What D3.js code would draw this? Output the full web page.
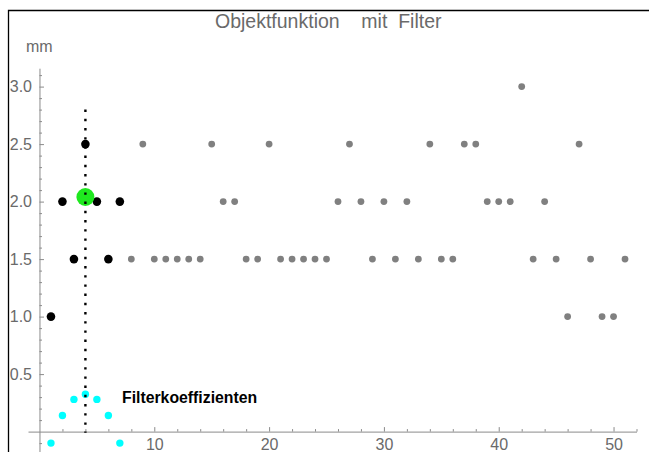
<!DOCTYPE html>
<html>
<head>
<meta charset="utf-8">
<script src="https://cdn.jsdelivr.net/npm/d3@7"></script>
<style>
  html, body { margin: 0; padding: 0; background: #fff; }
  svg { display: block; font-family: "Liberation Sans", Arial, sans-serif; }
</style>
</head>
<body>
<svg id="chart" width="649" height="452"></svg>
<script>
// Sample index and measured object function (mm)
const objIndex = d3.range(1, 52);
const objValues = [
  1.0, 2.0, 1.5, 2.5, 2.0, 1.5, 2.0,            // 1..7 (inside filter window)
  1.5, 2.5, 1.5, 1.5, 1.5, 1.5, 1.5, 2.5, 2.0, 2.0, // 8..17
  1.5, 1.5, 2.5, 1.5, 1.5, 1.5, 1.5, 1.5, 2.0, 2.5, // 18..27
  2.0, 1.5, 2.0, 1.5, 2.0, 1.5, 2.5, 1.5, 1.5, 2.5, // 28..37
  2.5, 2.0, 2.0, 2.0, 3.0, 1.5, 2.0, 1.5, 1.0, 2.5, // 38..47
  1.5, 1.0, 1.0, 1.5                            // 48..51
];
// Filter window covers the first seven samples
const windowSize = 7;
const filterCenter = 4;
const filterCoefficients = [-0.10, 0.14, 0.28, 0.325, 0.28, 0.14, -0.10];
const filteredValue = 2.04;
const filterLineTop = 2.8;

const xMajorTicks = [10, 20, 30, 40, 50];
const xMinorTicks = d3.range(2, 53, 2).filter(d => d % 10 !== 0);
const yMajorTicks = [0.5, 1.0, 1.5, 2.0, 2.5, 3.0];
const yMinorTicks = d3.range(-1, 32).map(d => d / 10).filter(d => Math.round(d * 10) % 5 !== 0);

const titleText = "Objektfunktion    mit  Filter";
const yUnit = "mm";
const filterLabel = "Filterkoeffizienten";

const svg = d3.select("#chart");

const x = d3.scaleLinear().domain([-1, 52]).range([28, 636.5]);
const y = d3.scaleLinear().domain([-0.18, 3.16]).range([452.3, 68.2]);

// Outer frame (top and left edges)
svg.append("path")
  .attr("d", "M8.5,452 L8.5,10.5 L649,10.5")
  .attr("fill", "none").attr("stroke", "#000").attr("stroke-width", 1.3);

const axisColor = "#8a8a8a";
const labelColor = "#6a6a6a";

function styleAxis(g) {
  g.selectAll("path.domain").attr("stroke", axisColor).attr("stroke-width", 1);
  g.selectAll(".tick line").attr("stroke", axisColor).attr("stroke-width", 1);
  g.selectAll(".tick text").attr("fill", labelColor)
    .attr("font-size", 16).attr("font-family", "Liberation Sans, Arial, sans-serif");
}

// X axis at y = 0
const xAxisY = y(0);
svg.append("g").attr("transform", `translate(0,${xAxisY})`)
  .call(d3.axisBottom(x).tickValues(xMinorTicks).tickSizeInner(-2.5).tickSizeOuter(0).tickFormat(""))
  .call(styleAxis);
svg.append("g").attr("transform", `translate(0,${xAxisY})`)
  .call(d3.axisBottom(x).tickValues(xMajorTicks).tickSizeInner(-4.5).tickSizeOuter(0).tickPadding(7.2).tickFormat(d3.format("d")))
  .call(styleAxis)
  .call(g => g.select("path.domain").remove());

// Y axis at x = 0
const yAxisX = x(0);
svg.append("g").attr("transform", `translate(${yAxisX},0)`)
  .call(d3.axisLeft(y).tickValues(yMinorTicks).tickSizeInner(-2.5).tickSizeOuter(0).tickFormat(""))
  .call(styleAxis);
svg.append("g").attr("transform", `translate(${yAxisX},0)`)
  .call(d3.axisLeft(y).tickValues(yMajorTicks).tickSizeInner(-4.5).tickSizeOuter(0).tickPadding(7.5).tickFormat(d3.format(".1f")))
  .call(styleAxis)
  .call(g => g.select("path.domain").remove());

// Title and unit
svg.append("text")
  .attr("x", 215).attr("y", 28)
  .attr("xml:space", "preserve").style("white-space", "pre")
  .attr("font-size", 19.5).attr("fill", labelColor)
  .text(titleText);
svg.append("text")
  .attr("x", 26).attr("y", 52)
  .attr("font-size", 16).attr("fill", labelColor)
  .text(yUnit);

// Object function samples outside the filter window
const objData = objIndex.map((d, i) => ({ x: d, v: objValues[i] }));
svg.append("g").selectAll("circle")
  .data(objData.filter(d => d.x > windowSize))
  .join("circle")
  .attr("cx", d => x(d.x)).attr("cy", d => y(d.v))
  .attr("r", 3.4).attr("fill", "#808080");

// Samples inside the filter window
svg.append("g").selectAll("circle")
  .data(objData.filter(d => d.x <= windowSize))
  .join("circle")
  .attr("cx", d => x(d.x)).attr("cy", d => y(d.v))
  .attr("r", 4.3).attr("fill", "#000");

// Filter output at the window centre
svg.append("circle")
  .attr("cx", x(filterCenter)).attr("cy", y(filteredValue))
  .attr("r", 9).attr("fill", "#1fe81f");

// Filter coefficients
svg.append("g").selectAll("circle")
  .data(filterCoefficients.map((c, i) => ({ x: i + 1, v: c })))
  .join("circle")
  .attr("cx", d => x(d.x)).attr("cy", d => y(d.v))
  .attr("r", 3.7).attr("fill", "#00ffff");

// Dotted marker through the window centre
svg.append("line")
  .attr("x1", x(filterCenter)).attr("x2", x(filterCenter))
  .attr("y1", y(filterLineTop)).attr("y2", y(0) + 1.2)
  .attr("stroke", "#000").attr("stroke-width", 2.4)
  .attr("stroke-dasharray", "2.4 6.8");

svg.append("text")
  .attr("x", 122).attr("y", 402.5)
  .attr("font-size", 15.8).attr("font-weight", "bold").attr("fill", "#000")
  .text(filterLabel);
</script>
</body>
</html>
